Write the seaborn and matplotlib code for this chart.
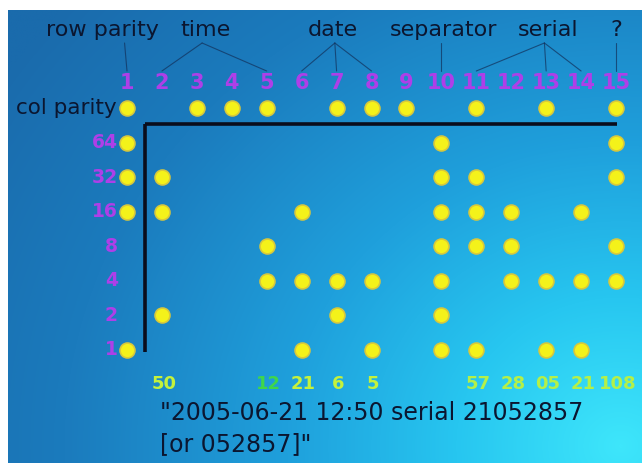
import numpy as np
import pandas as pd
import matplotlib.pyplot as plt
import seaborn as sns
from matplotlib.colors import LinearSegmentedColormap

# column headers and row labels of the dot grid
columns = list(range(1, 16))
row_labels = ["col parity", "64", "32", "16", "8", "4", "2", "1"]

# yellow dots: (column, row label)
dot_cols = [1, 1, 1, 1, 1,
            2, 2, 2,
            3, 4,
            5, 5, 5,
            6, 6, 6,
            7, 7, 7,
            8, 8, 8,
            9,
            10, 10, 10, 10, 10, 10, 10,
            11, 11, 11, 11, 11,
            12, 12, 12,
            13, 13, 13,
            14, 14, 14,
            15, 15, 15, 15, 15]
dot_rows = ["col parity", "64", "32", "16", "1",
            "32", "16", "2",
            "col parity", "col parity",
            "col parity", "8", "4",
            "16", "4", "1",
            "col parity", "4", "2",
            "col parity", "4", "1",
            "col parity",
            "64", "32", "16", "8", "4", "2", "1",
            "col parity", "32", "16", "8", "1",
            "16", "8", "4",
            "col parity", "4", "1",
            "16", "4", "1",
            "col parity", "64", "32", "8", "4"]

# decoded values printed under the columns
decoded_cols = [2, 5, 6, 7, 8, 11, 12, 13, 14, 15]
decoded_text = ["50", "12", "21", "6", "5", "57", "28", "05", "21", "108"]
decoded_colors = ["#c4f23c", "#3fd64a", "#c4f23c", "#c4f23c", "#c4f23c",
                  "#b4f048", "#b4f048", "#b4f048", "#b4f048", "#b4f048"]

# field labels at the top and the columns they point to
field_names = ["row parity", "time", "date", "separator", "serial", "?"]
field_x = [0.31, 3.25, 6.9, 10.05, 13.05, 15.0]
field_apex = [0.93, 3.15, 6.95, 10.0, 12.95, 15.0]
field_links = [[1], [2, 5], [6, 7, 8], [10], [11, 13, 14], [15]]

caption = ['"2005-06-21 12:50 serial 21052857', '[or 052857]"']

# pixel layout of the photo
COL0, COL_STEP = 127.0, 34.93
ROW0, ROW_STEP = 108.0, 34.57
W, H = 642, 463
INK = "#0b1630"
PURPLE = "#ae3fe8"


def px_col(px):
    return 1 + (px - COL0) / COL_STEP


def px_row(py):
    return (py - ROW0) / ROW_STEP


def draw_background(ax):
    """Blue photo background, brighter towards the lower right."""
    yy, xx = np.mgrid[0:H, 0:W]
    d = np.hypot(xx - 620, (yy - 445) * 1.1)
    cmap = LinearSegmentedColormap.from_list(
        "bg", [(0.0, "#3ee6fb"), (0.22, "#27c6f0"), (0.45, "#1fa0dc"),
               (0.75, "#1b7bbd"), (1.0, "#1a6bac")])
    ax.imshow(d / d.max(), cmap=cmap, vmin=0, vmax=0.95, aspect="auto",
              extent=(px_col(8), px_col(W), px_row(H), px_row(10)),
              zorder=0, interpolation="bilinear")


def main():
    sns.set_theme(style="white")
    plt.rcParams["font.family"] = ["DejaVu Sans"]
    fig = plt.figure(figsize=(W / 100, H / 100), dpi=100, facecolor="white")
    ax = fig.add_axes([0, 0, 1, 1])
    ax.set_xlim(px_col(0), px_col(W))
    ax.set_ylim(px_row(H), px_row(0))
    ax.axis("off")

    draw_background(ax)

    row_pos = {lab: i for i, lab in enumerate(row_labels)}
    dots = pd.DataFrame({"col": dot_cols, "row": [row_pos[r] for r in dot_rows]})
    sns.scatterplot(data=dots, x="col", y="row", s=115, color="#f4f21a",
                    edgecolor="#d8c83c", linewidth=1.2, zorder=5, ax=ax)

    # black frame of the grid
    ax.plot([px_col(145), px_col(617)], [px_row(124)] * 2, color="#0a0d1c", lw=2.6,
            solid_capstyle="butt", zorder=4)
    ax.plot([px_col(145)] * 2, [px_row(124), px_row(352)], color="#0a0d1c", lw=2.6,
            solid_capstyle="butt", zorder=4)

    # column numbers
    for c in columns:
        ax.text(c, px_row(83), str(c), color=PURPLE, fontsize=15,
                fontweight="bold", ha="center", va="center", zorder=6)

    # row labels
    for lab in row_labels:
        if lab == "col parity":
            ax.text(px_col(117), row_pos[lab], lab, color=INK, fontsize=15.5,
                    ha="right", va="center", zorder=6)
        else:
            ax.text(px_col(118), row_pos[lab], lab, color=PURPLE, fontsize=13.5,
                    fontweight="bold", ha="right", va="center", zorder=6)

    # field labels with their pointer lines
    for name, x, apex, links in zip(field_names, field_x, field_apex, field_links):
        ax.text(x, px_row(30), name, color=INK, fontsize=16,
                ha="center", va="center", zorder=6)
        for c in links:
            ax.plot([apex, c], [px_row(43), px_row(71)], color="#12305a",
                    lw=0.8, alpha=0.7, zorder=3)

    # decoded values
    for c, t, col in zip(decoded_cols, decoded_text, decoded_colors):
        ax.text(c + 0.05, px_row(384), t, color=col, fontsize=13,
                fontweight="bold", ha="center", va="center", zorder=6)

    # caption
    for i, line in enumerate(caption):
        ax.text(px_col(160), px_row(413 + 31 * i), line, color=INK,
                fontsize=17, ha="left", va="center", zorder=6)

    fig.savefig("out.png", dpi=100, facecolor="white")


if __name__ == "__main__":
    main()
